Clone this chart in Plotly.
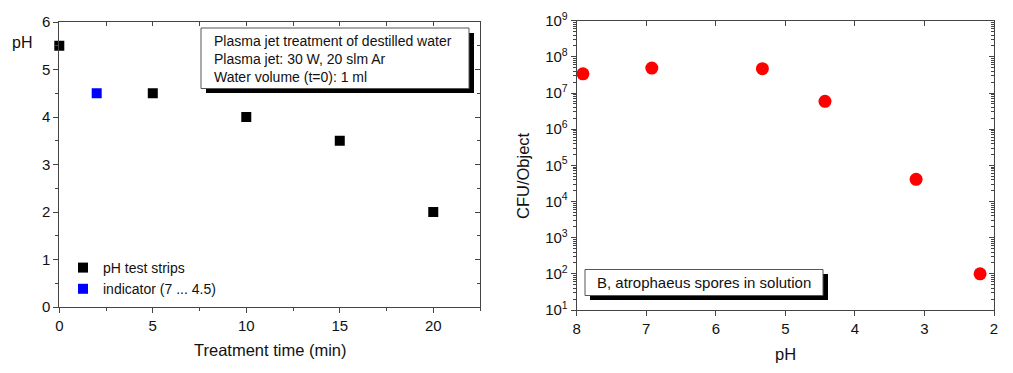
import plotly.graph_objects as go

# ---- data ----
time_strips = [0, 5, 10, 15, 20]
ph_strips = [5.5, 4.5, 4.0, 3.5, 2.0]
time_indicator = [2]
ph_indicator = [4.5]

ph_values = [7.91, 6.92, 5.33, 4.43, 3.12, 2.20]
cfu_values = [3.4e7, 4.9e7, 4.7e7, 5.9e6, 4.1e4, 1.0e2]

left_xticks = [0, 5, 10, 15, 20]
right_xticks = [8, 7, 6, 5, 4, 3, 2]
log_exponents = list(range(1, 10))

W, H = 1013, 373
FONT = "Liberation Sans, Arial, sans-serif"
LINE = "#444444"
TXT = "#111111"


def px(x):
    return x / W


def py(y):
    return 1 - y / H


dx1 = [px(59.3), px(480)]
dy1 = [py(307), py(22)]
dx2 = [px(576.7), px(994)]
dy2 = [py(310), py(20.7)]

fig = go.Figure()

fig.add_trace(go.Scatter(
    x=time_strips, y=ph_strips, mode="markers", name="pH test strips",
    marker=dict(symbol="square", size=10, color="#000000", line=dict(width=0)),
    xaxis="x", yaxis="y", cliponaxis=False))
fig.add_trace(go.Scatter(
    x=time_indicator, y=ph_indicator, mode="markers", name="indicator (7 ... 4.5)",
    marker=dict(symbol="square", size=10, color="#0000ff", line=dict(width=0)),
    xaxis="x", yaxis="y", cliponaxis=False))
fig.add_trace(go.Scatter(
    x=ph_values, y=cfu_values, mode="markers", showlegend=False,
    marker=dict(symbol="circle", size=13, color="#ff0000", line=dict(width=0)),
    xaxis="x2", yaxis="y2", cliponaxis=False))
# empty traces to register mirror (top/right) axes
fig.add_trace(go.Scatter(x=[], y=[], xaxis="x3", yaxis="y3", showlegend=False, hoverinfo="skip"))
fig.add_trace(go.Scatter(x=[], y=[], xaxis="x4", yaxis="y4", showlegend=False, hoverinfo="skip"))

common = dict(showgrid=False, zeroline=False, showline=True, linecolor=LINE, linewidth=1,
              tickcolor=LINE, automargin=False,
              tickfont=dict(size=15, family=FONT, color=TXT))

log_major = [10 ** k for k in log_exponents]
log_text = ["10<sup>%d</sup>" % k for k in log_exponents]
log_minor = [m * 10 ** k for k in log_exponents[:-1] for m in range(2, 10)]

fig.update_layout(
    width=W, height=H,
    margin=dict(l=0, r=0, t=0, b=0, autoexpand=False),
    paper_bgcolor="white", plot_bgcolor="white",
    font=dict(family=FONT, size=14, color=TXT),
    xaxis=dict(domain=dx1, range=[0, 22.5], anchor="y", ticks="outside", ticklen=5,
               tickmode="array", tickvals=left_xticks,
               minor=dict(tickmode="array", tickvals=[2.5, 7.5, 12.5, 17.5, 22.5],
                          ticks="outside", ticklen=3, tickcolor=LINE), **common),
    yaxis=dict(domain=dy1, range=[0, 6], anchor="x", ticks="outside", ticklen=5, dtick=1,
               minor=dict(dtick=0.5, ticks="outside", ticklen=3, tickcolor=LINE), **common),
    xaxis3=dict(overlaying="x", side="top", anchor="y3", range=[0, 22.5], ticks="inside",
                ticklen=4, tickmode="array", tickvals=[0, 2.5, 5, 7.5, 10, 12.5, 15, 17.5, 20, 22.5],
                showticklabels=False, **common),
    yaxis3=dict(overlaying="y", side="right", anchor="x3", range=[0, 6], ticks="inside",
                ticklen=5, dtick=1, showticklabels=False,
                minor=dict(dtick=0.5, ticks="inside", ticklen=3, tickcolor=LINE), **common),
    xaxis2=dict(domain=dx2, range=[8, 2], anchor="y2", ticks="outside", ticklen=5,
                tickmode="array", tickvals=right_xticks, **common),
    yaxis2=dict(domain=dy2, type="log", range=[1, 9], anchor="x2", ticks="outside", ticklen=5,
                tickmode="array", tickvals=log_major, ticktext=log_text,
                minor=dict(tickmode="array", tickvals=log_minor, ticks="outside", ticklen=3,
                           tickcolor=LINE), **common),
    xaxis4=dict(overlaying="x2", side="top", anchor="y4", range=[8, 2], ticks="inside",
                ticklen=5, tickmode="array", tickvals=right_xticks, showticklabels=False, **common),
    yaxis4=dict(overlaying="y2", side="right", type="log", range=[1, 9], anchor="x4",
                ticks="inside", ticklen=5, tickmode="array", tickvals=log_major,
                showticklabels=False,
                minor=dict(tickmode="array", tickvals=log_minor, ticks="inside", ticklen=3,
                           tickcolor=LINE), **common),
    legend=dict(x=px(63), y=py(252), xanchor="left", yanchor="top",
                bgcolor="rgba(0,0,0,0)", font=dict(size=14, family=FONT, color=TXT),
                tracegroupgap=0, itemclick=False),
    shapes=[
        dict(type="rect", xref="paper", yref="paper", x0=px(206), x1=px(474), y0=py(93), y1=py(33),
             fillcolor="black", line=dict(width=0)),
        dict(type="rect", xref="paper", yref="paper", x0=px(201), x1=px(469), y0=py(88.5), y1=py(28),
             fillcolor="white", line=dict(color="#555", width=1)),
        dict(type="rect", xref="paper", yref="paper", x0=px(590), x1=px(828), y0=py(300), y1=py(274),
             fillcolor="black", line=dict(width=0)),
        dict(type="rect", xref="paper", yref="paper", x0=px(585), x1=px(823), y0=py(295.5), y1=py(269.5),
             fillcolor="white", line=dict(color="#555", width=1)),
    ],
    annotations=[
        dict(text="Plasma jet treatment of destilled water<br>Plasma jet: 30 W, 20 slm Ar<br>Water volume (t=0): 1 ml",
             xref="paper", yref="paper", x=px(212), y=py(58.5), xanchor="left", yanchor="middle",
             align="left", showarrow=False, font=dict(size=14, family=FONT, color=TXT)),
        dict(text="B, atrophaeus spores in solution", xref="paper", yref="paper",
             x=px(704), y=py(282.5), xanchor="center", yanchor="middle", showarrow=False,
             font=dict(size=15, family=FONT, color=TXT)),
        dict(text="pH", xref="paper", yref="paper", x=px(22), y=py(43), xanchor="center",
             yanchor="middle", showarrow=False, font=dict(size=16, family=FONT, color=TXT)),
        dict(text="Treatment time (min)", xref="paper", yref="paper", x=px(270), y=py(350),
             xanchor="center", yanchor="middle", showarrow=False,
             font=dict(size=16.5, family=FONT, color=TXT)),
        dict(text="pH", xref="paper", yref="paper", x=px(785), y=py(354), xanchor="center",
             yanchor="middle", showarrow=False, font=dict(size=16.5, family=FONT, color=TXT)),
        dict(text="CFU/Object", xref="paper", yref="paper", x=px(523), y=py(176), xanchor="center",
             yanchor="middle", textangle=-90, showarrow=False,
             font=dict(size=16.5, family=FONT, color=TXT)),
    ],
)

fig.write_html("out.html", config={"displayModeBar": False},
               post_script="document.body.style.margin='0';document.body.style.overflow='hidden';")
